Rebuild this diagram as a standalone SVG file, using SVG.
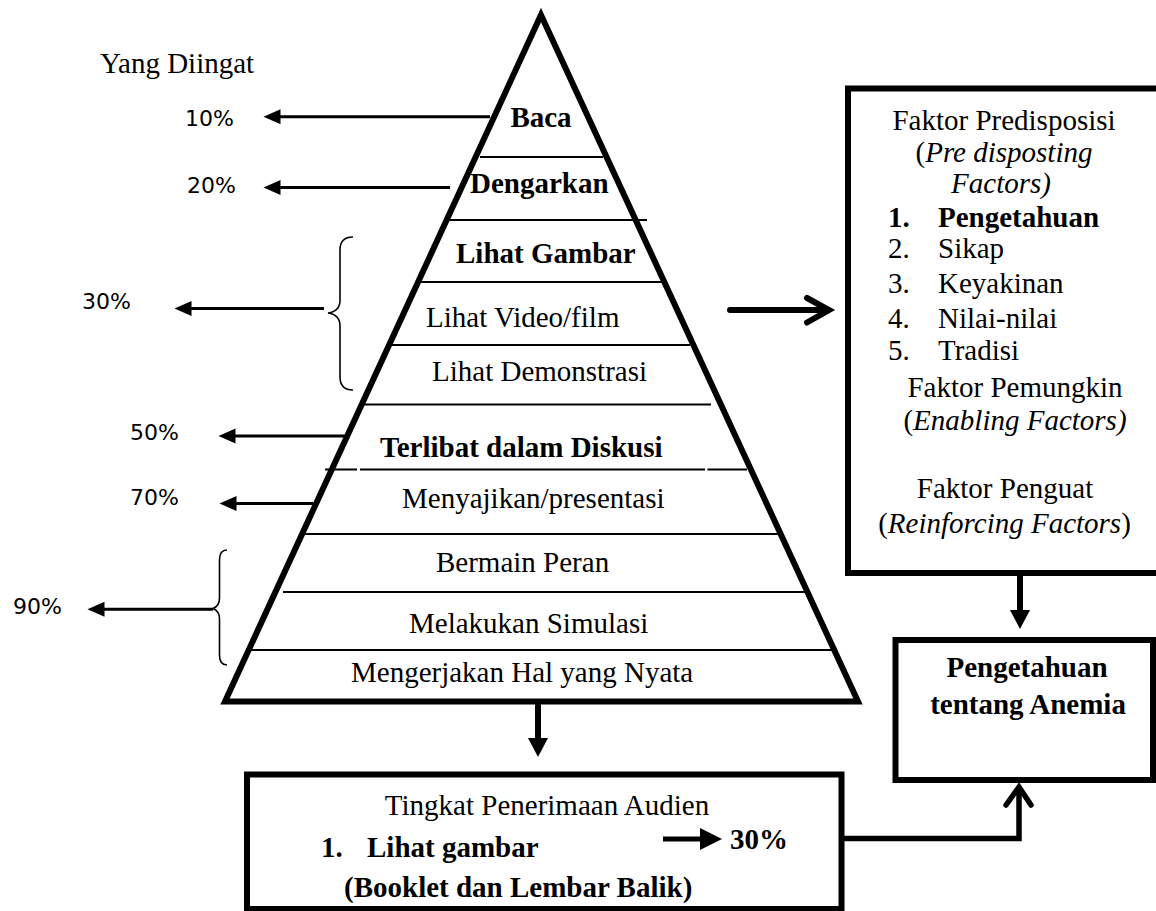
<svg xmlns="http://www.w3.org/2000/svg" width="1156" height="911" viewBox="0 0 1156 911">
  <style>
    .t { font-family: "Liberation Serif", "Times New Roman", serif; font-size: 29px; fill: #000; }
    .b { font-weight: bold; }
    .i { font-style: italic; }
    .pct { font-family: "DejaVu Sans", "Liberation Sans", sans-serif; font-size: 22px; fill: #000; }
    .band { stroke: #000; stroke-width: 2; fill: none; }
    .thick { stroke: #000; stroke-width: 6; fill: none; }
    .box { stroke: #000; stroke-width: 6; fill: #fff; }
    .lead { stroke: #000; stroke-width: 3; fill: none; }
    .brace { stroke: #000; stroke-width: 1.6; fill: none; }
    .chev { stroke: #000; stroke-width: 6; fill: none; stroke-linecap: round; stroke-linejoin: miter; }
  </style>
  <defs>
    <marker id="headSmall" markerUnits="userSpaceOnUse" markerWidth="18" markerHeight="16" refX="0.5" refY="7.5" orient="auto">
      <path d="M0,0 L17,7.5 L0,15 Z" fill="#000"/>
    </marker>
    <marker id="headBig" markerUnits="userSpaceOnUse" markerWidth="20" markerHeight="21" refX="0.5" refY="10" orient="auto">
      <path d="M0,0 L19,10 L0,20 Z" fill="#000"/>
    </marker>
  </defs>

  <rect width="1156" height="911" fill="#fff"/>

  <!-- pyramid of learning -->
  <g id="pyramid">
    <g class="band">
      <line x1="480" y1="157" x2="603" y2="157"/>
      <line x1="448" y1="220" x2="647" y2="220"/>
      <line x1="420" y1="282" x2="662" y2="282"/>
      <line x1="392" y1="345" x2="690" y2="345"/>
      <line x1="363" y1="404.5" x2="711" y2="404.5"/>
      <line x1="325" y1="469.5" x2="357" y2="469.5"/>
      <line x1="360" y1="469.5" x2="705" y2="469.5"/>
      <line x1="707.5" y1="469.5" x2="747" y2="469.5"/>
      <line x1="303" y1="534" x2="780" y2="534"/>
      <line x1="283" y1="592" x2="806" y2="592"/>
      <line x1="248" y1="650" x2="834" y2="650"/>
    </g>
    <polygon class="thick" points="541,15 858,701.5 225,701.5" stroke-linejoin="miter" stroke-miterlimit="10"/>
    <text class="t b" x="541" y="127" font-size="31" text-anchor="middle">Baca</text>
    <text class="t b" x="470" y="193" font-size="31">Dengarkan</text>
    <text class="t b" x="456" y="263">Lihat Gambar</text>
    <text class="t" x="426" y="327">Lihat Video/film</text>
    <text class="t" x="432" y="381">Lihat Demonstrasi</text>
    <text class="t b" x="380" y="457">Terlibat dalam Diskusi</text>
    <text class="t" x="402" y="508">Menyajikan/presentasi</text>
    <text class="t" x="436" y="572">Bermain Peran</text>
    <text class="t" x="409" y="633">Melakukan Simulasi</text>
    <text class="t" x="351" y="682">Mengerjakan Hal yang Nyata</text>
  </g>

  <!-- retention percentages -->
  <g id="retention">
    <text class="t" x="100" y="73">Yang Diingat</text>
    <text class="pct" x="185" y="126">10%</text>
    <text class="pct" x="187" y="193">20%</text>
    <text class="pct" x="82" y="309">30%</text>
    <text class="pct" x="130" y="440">50%</text>
    <text class="pct" x="130" y="505">70%</text>
    <text class="pct" x="13" y="614">90%</text>
    <path class="brace" d="M353,237 C344,237 340,241 340,250 L340,300 C340,308 336,312 328,313 C336,314 340,318 340,326 L340,377 C340,386 344,390 353,390"/>
    <path class="brace" d="M227,550 C222,550 219.5,553 219.5,560 L219.5,598 C219.5,604 217,607 213,608.5 C217,610 219.5,613 219.5,619 L219.5,655 C219.5,662 222,665 227,665"/>
  </g>

  <!-- factor box -->
  <g id="factors">
    <rect class="box" x="848" y="88.5" width="312" height="484.5"/>
    <text class="t" x="1004" y="130" text-anchor="middle">Faktor Predisposisi</text>
    <text class="t" x="1004" y="162" text-anchor="middle">(<tspan class="i">Pre disposting</tspan></text>
    <text class="t i" x="1001" y="193" text-anchor="middle">Factors)</text>
    <text class="t b" x="888" y="227">1.</text>
    <text class="t b" x="938" y="227">Pengetahuan</text>
    <text class="t" x="888" y="258">2.</text>
    <text class="t" x="938" y="258">Sikap</text>
    <text class="t" x="888" y="293">3.</text>
    <text class="t" x="938" y="293">Keyakinan</text>
    <text class="t" x="888" y="328">4.</text>
    <text class="t" x="938" y="328">Nilai-nilai</text>
    <text class="t" x="888" y="360">5.</text>
    <text class="t" x="938" y="360">Tradisi</text>
    <text class="t" x="1015" y="397" text-anchor="middle">Faktor Pemungkin</text>
    <text class="t" x="1015" y="430" text-anchor="middle">(<tspan class="i">Enabling Factors)</tspan></text>
    <text class="t" x="1005" y="498" text-anchor="middle">Faktor Penguat</text>
    <text class="t" x="1004.5" y="533" text-anchor="middle">(<tspan class="i">Reinforcing Factors</tspan>)</text>
  </g>

  <!-- outcome box -->
  <g id="outcome">
    <rect class="box" x="895.5" y="640" width="257.5" height="140"/>
    <text class="t b" x="1027" y="677" font-size="26" text-anchor="middle">Pengetahuan</text>
    <text class="t b" x="1028" y="714" font-size="26" text-anchor="middle">tentang Anemia</text>
  </g>

  <!-- audience acceptance box -->
  <g id="acceptance">
    <rect class="box" x="247" y="774.5" width="594.5" height="134.5" stroke-width="5.5"/>
    <text class="t" x="547" y="815" font-size="31" text-anchor="middle">Tingkat Penerimaan Audien</text>
    <text class="t b" x="321" y="857" font-size="31">1.</text>
    <text class="t b" x="367" y="857" font-size="31">Lihat gambar</text>
    <line x1="663" y1="839" x2="701" y2="839" stroke="#000" stroke-width="5"/>
    <polygon points="700,828 722,839 700,850" fill="#000"/>
    <text class="t b" x="730" y="849" font-size="32">30%</text>
    <text class="t b" x="344" y="897" font-size="31">(Booklet dan Lembar Balik)</text>
  </g>

  <!-- connectors -->
  <g id="connectors">
    <line class="lead" x1="490" y1="116.7" x2="280" y2="116.7" marker-end="url(#headSmall)"/>
    <line class="lead" x1="450" y1="187.5" x2="280" y2="187.5" marker-end="url(#headSmall)"/>
    <line class="lead" x1="324" y1="308.5" x2="191" y2="308.5" marker-end="url(#headSmall)"/>
    <line class="lead" x1="345" y1="436" x2="235" y2="436" marker-end="url(#headSmall)"/>
    <line class="lead" x1="313" y1="503.5" x2="236" y2="503.5" marker-end="url(#headSmall)"/>
    <line class="lead" x1="213" y1="609.3" x2="104" y2="609.3" marker-end="url(#headSmall)"/>

    <line class="chev" x1="730" y1="310" x2="826" y2="310" stroke-linecap="butt"/>
    <polyline class="chev" points="807,298 829,310 807,322.5"/>

    <line class="thick" x1="538" y1="704" x2="538" y2="738.5" marker-end="url(#headBig)"/>
    <line class="thick" x1="1020" y1="576" x2="1020" y2="610.5" marker-end="url(#headBig)"/>

    <polyline points="844,838.5 1019,838.5 1019,789" stroke="#000" stroke-width="5.5" fill="none" stroke-linejoin="miter"/>
    <polyline points="1006,805 1019,787 1031,805" stroke="#000" stroke-width="5.5" fill="none" stroke-linecap="round" stroke-linejoin="miter"/>
  </g>
</svg>
